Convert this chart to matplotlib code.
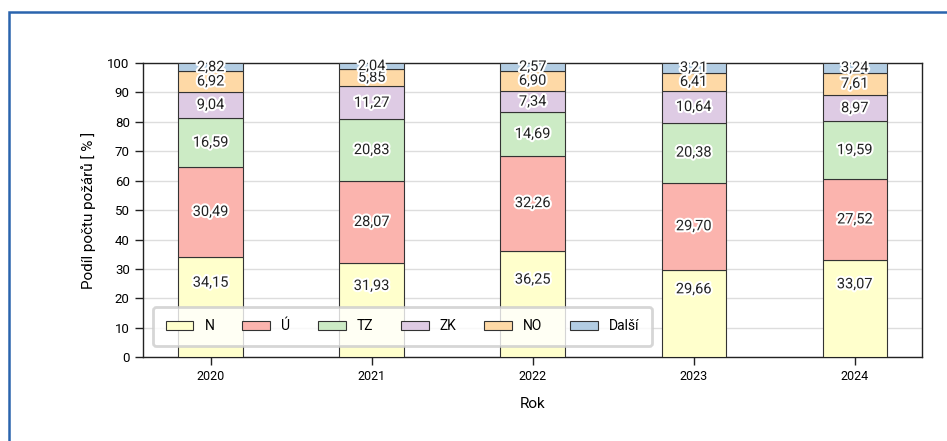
import matplotlib.pyplot as plt
import matplotlib.patheffects as pe
from matplotlib.patches import Rectangle
import numpy as np

# === Data ===
years = ["2020", "2021", "2022", "2023", "2024"]
categories = ["N", "Ú", "TZ", "ZK", "NO", "Další"]
n_vals = [34.15, 31.93, 36.25, 29.66, 33.07]
u_vals = [30.49, 28.07, 32.26, 29.70, 27.52]
tz_vals = [16.59, 20.83, 14.69, 20.38, 19.59]
zk_vals = [9.04, 11.27, 7.34, 10.64, 8.97]
no_vals = [6.92, 5.85, 6.90, 6.41, 7.61]
dalsi_vals = [2.82, 2.04, 2.57, 3.21, 3.24]
colors = ["#ffffcc", "#fbb4ae", "#ccebc5", "#decbe4", "#fed9a6", "#b3cde3"]

series = [n_vals, u_vals, tz_vals, zk_vals, no_vals, dalsi_vals]

plt.rcParams['font.family'] = ['Roboto', 'DejaVu Sans']

fig = plt.figure(figsize=(9.47, 4.41), dpi=100)
ax = fig.add_axes([0.151, 0.190, 0.823, 0.667])

# blue frame around the figure
fig.patches.append(Rectangle((9 / 947, -0.2), 1.2, 1.2 - 12 / 441, transform=fig.transFigure,
                             fill=False, edgecolor="#2a64ad", linewidth=1.8, zorder=10))

x = np.arange(len(years))
bottom = np.zeros(len(years))
legend_top = 16.5
for vals, cat, col in zip(series, categories, colors):
    vals = np.array(vals)
    ax.bar(x, vals, 0.4, bottom=bottom, color=col, edgecolor="#333333", linewidth=0.8,
           label=cat, zorder=3)
    for i, v in enumerate(vals):
        lo = bottom[i]
        if cat == "N":
            lo = max(lo, legend_top)
        yc = (lo + bottom[i] + v) / 2
        t = ax.text(x[i], yc, f"{v:.2f}".replace(".", ","), ha="center", va="center",
                    fontsize=10.5, color="#222222", zorder=5)
        t.set_path_effects([pe.withStroke(linewidth=3, foreground="white")])
    bottom += vals

ax.set_xlim(-0.42, 4.42)
ax.set_ylim(0, 100)
ax.set_yticks(range(0, 101, 10))
ax.set_xticks(x)
ax.set_xticklabels(years, fontsize=9)
ax.tick_params(axis='y', labelsize=9.5)
ax.tick_params(axis='both', direction='out', length=6, width=1, color="#222222")
ax.grid(axis='y', color="#dddddd", linewidth=1, zorder=0)
ax.set_axisbelow(True)
for s in ax.spines.values():
    s.set_color("#222222")
    s.set_linewidth(1)

ax.set_ylabel("Podíl počtu požárů [ % ]", fontsize=11, labelpad=8)
ax.set_xlabel("Rok", fontsize=11, labelpad=10)

leg = ax.legend(loc="lower left", bbox_to_anchor=(0.004, 0.015), ncol=6, fontsize=10,
                handlelength=2.0, handleheight=0.65, handletextpad=0.8, columnspacing=2.0,
                frameon=True, fancybox=True, borderpad=0.9)
leg.get_frame().set_edgecolor("#cccccc")
leg.get_frame().set_linewidth(2)
leg.set_zorder(6)

fig.savefig("out.png", dpi=100)
